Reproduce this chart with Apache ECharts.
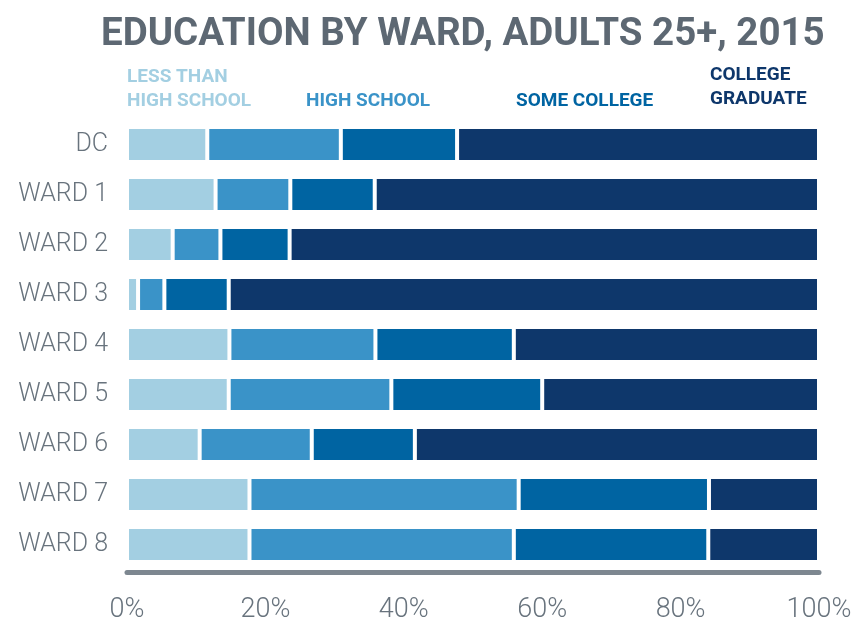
<!DOCTYPE html>
<html>
<head>
<meta charset="utf-8">
<script src="https://cdn.jsdelivr.net/npm/echarts@6/dist/echarts.min.js"></script>
<style>
  html, body { margin: 0; padding: 0; background: #fff; }
  #chart { width: 865px; height: 625px; }
</style>
</head>
<body>
<div id="chart"></div>
<script>
// categories, top to bottom
const wards = ['DC', 'WARD 1', 'WARD 2', 'WARD 3', 'WARD 4', 'WARD 5', 'WARD 6', 'WARD 7', 'WARD 8']

// share of adults 25+ by education level (%)
const lessThanHS = [11.6, 12.8, 6.6, 1.6, 14.8, 14.7, 10.5, 17.7, 17.7]
const highSchool = [19.3, 10.8, 6.9, 3.8, 21.1, 23.5, 16.2, 38.9, 38.2]
const someCollege = [16.8, 12.2, 10.0, 9.3, 20.0, 21.8, 14.9, 27.5, 28.1]
const collegeGrad = [52.3, 64.2, 76.5, 85.3, 44.1, 40.0, 58.4, 15.9, 16.0]

const xTicks = [0, 20, 40, 60, 80, 100]

const colors = ['#a3cfe2', '#3a93c8', '#0064a2', '#0e376b']
const textGray = '#68737d'

const chart = echarts.init(document.getElementById('chart'))

function barSeries(name, data, color) {
  return {
    name: name,
    type: 'bar',
    stack: 'edu',
    barWidth: 35,
    data: data,
    itemStyle: {
      color: color,
      borderColor: '#fff',
      borderWidth: 2
    },
    emphasis: { disabled: true }
  }
}

// legend labels sit above the bars, each in its series colour
function legendText(x, y, text, color) {
  return {
    type: 'text',
    left: x,
    top: y,
    style: {
      text: text,
      fill: color,
      font: 'bold 19px Roboto',
      lineHeight: 24
    }
  }
}

chart.setOption({
  animation: false,
  title: {
    text: 'EDUCATION BY WARD, ADULTS 25+, 2015',
    left: 96,
    top: 11,
    textStyle: {
      fontFamily: 'Roboto',
      fontWeight: 'bold',
      fontSize: 38.5,
      color: '#5d6873'
    }
  },
  graphic: [
    legendText(127, 65, 'LESS THAN\nHIGH SCHOOL', colors[0]),
    legendText(306, 89, 'HIGH SCHOOL', colors[1]),
    legendText(516, 89, 'SOME COLLEGE', colors[2]),
    legendText(710, 63, 'COLLEGE\nGRADUATE', colors[3])
  ],
  grid: {
    left: 127,
    right: 46,
    top: 119.5,
    bottom: 55.5,
    containLabel: false
  },
  xAxis: {
    type: 'value',
    min: xTicks[0],
    max: xTicks[xTicks.length - 1],
    interval: 20,
    offset: 3,
    axisLine: {
      show: true,
      lineStyle: { color: '#7d8790', width: 5 }
    },
    axisTick: { show: false },
    splitLine: { show: false },
    axisLabel: {
      margin: 24,
      formatter: '{value}%',
      fontFamily: 'Roboto',
      fontWeight: 300,
      fontSize: 27,
      color: textGray
    }
  },
  yAxis: {
    type: 'category',
    inverse: true,
    data: wards,
    axisLine: { show: false },
    axisTick: { show: false },
    axisLabel: {
      margin: 19,
      fontFamily: 'Roboto',
      fontWeight: 300,
      fontSize: 25,
      color: textGray
    }
  },
  series: [
    barSeries('Less than high school', lessThanHS, colors[0]),
    barSeries('High school', highSchool, colors[1]),
    barSeries('Some college', someCollege, colors[2]),
    barSeries('College graduate', collegeGrad, colors[3])
  ]
})
</script>
</body>
</html>
